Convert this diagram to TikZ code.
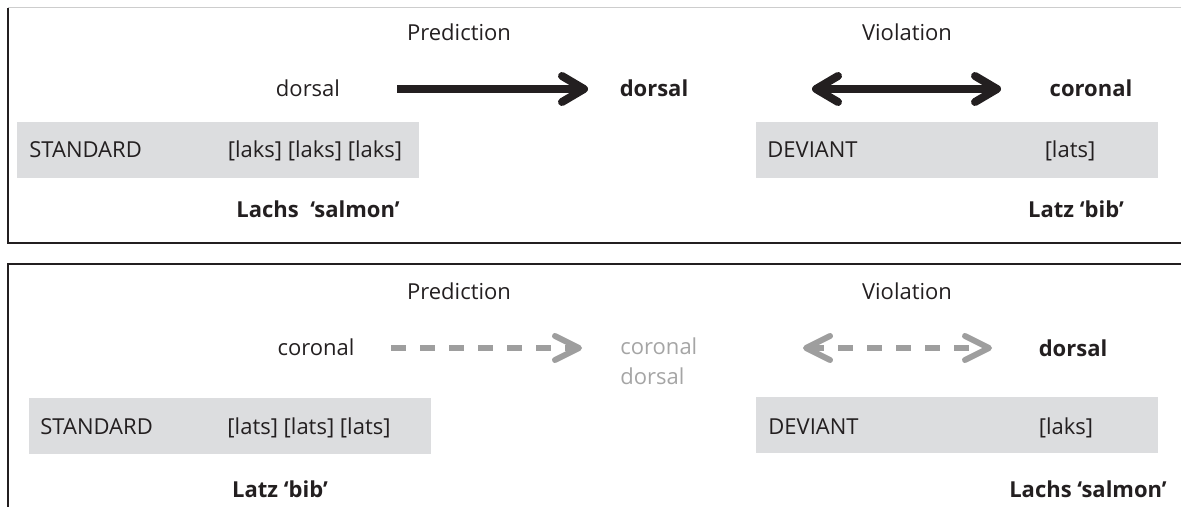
\documentclass[tikz,border=0pt]{standalone}
\usepackage{fontspec}
\setmainfont{Open Sans}
\usetikzlibrary{arrows.meta,positioning}
\definecolor{ink}{RGB}{35,31,32}
\definecolor{boxgrey}{RGB}{220,221,223}
\definecolor{fadegrey}{RGB}{158,158,158}
\definecolor{textgrey}{RGB}{165,165,165}
\definecolor{rulegrey}{RGB}{205,205,205}

\begin{document}
\begin{tikzpicture}[x=0.5pt,y=-0.5pt,
  lbl/.style={inner sep=0pt,text height=7.7pt,text depth=0pt,text=ink,font=\fontsize{11}{13}\selectfont},
  blbl/.style={lbl,font=\fontsize{11}{13}\selectfont\bfseries},
  glbl/.style={lbl,text=textgrey},
  trial/.style={fill=boxgrey,inner sep=0pt,minimum width=201pt,minimum height=28pt},
  frame/.style={draw=ink,line width=1.1pt},
  strong/.style={draw=ink,line width=4pt,-{Straight Barb[length=11pt,width=13pt,round]}},
  strong both/.style={strong,{Straight Barb[length=11pt,width=13pt,round]}-{Straight Barb[length=11pt,width=13pt,round]}},
  weak/.style={draw=fadegrey,line width=3pt,dash pattern=on 7.5pt off 7pt,-{Straight Barb[length=12pt,width=12pt,round]}},
  weak both/.style={weak,{Straight Barb[length=12pt,width=12pt,round]}-{Straight Barb[length=12pt,width=12pt,round]}}]
  \useasboundingbox (0,0) rectangle (1181,507);

  % frames
  \draw[rulegrey,line width=0.5pt] (8,8) -- (1181,8);
  \draw[frame] (8,8) -- (8,243) -- (1181,243);
  \draw[frame] (8,507) -- (8,264) -- (1181,264);

  % upper panel
  \node[lbl] (predA) at (459,33) {Prediction};
  \node[lbl] (violA) at (907,33) {Violation};
  \node[lbl] (srcA) at (308,89) {dorsal};
  \node[blbl] (tgtA) at (654,89) {dorsal};
  \node[blbl] (devA) at (1091,89) {coronal};
  \node[trial] (stdboxA) at (218,150) {};
  \node[lbl,anchor=west] (stdA) at (29,150) {STANDARD};
  \node[lbl] (seqA) at (315,150) {[laks] [laks] [laks]};
  \node[trial] (devboxA) at (957,150) {};
  \node[lbl,anchor=west] (devlA) at (767,150) {DEVIANT};
  \node[lbl] (itemA) at (1070,150) {[lats]};
  \node[blbl] (wordA) at (318,210) {Lachs\ \ ‘salmon’};
  \node[blbl] (wordB) at (1076,210) {Latz ‘bib’};
  \coordinate (pA1) at (397,89);
  \coordinate (pA2) at (588,89);
  \coordinate (vA1) at (812,89);
  \coordinate (vA2) at (1001,89);
  \draw[strong] (pA1) -- (pA2);
  \draw[strong both] (vA1) -- (vA2);

  % lower panel
  \node[lbl] (predB) at (459,292) {Prediction};
  \node[lbl] (violB) at (907,292) {Violation};
  \node[lbl] (srcB) at (316,348) {coronal};
  \node[glbl,anchor=west] (gcor) at (620,347) {coronal};
  \node[glbl] (gdor) [below=15pt of gcor.west,anchor=west] {dorsal};
  \node[blbl] (devB) at (1073,349) {dorsal};
  \node[trial] (stdboxB) at (230,426) {};
  \node[lbl,anchor=west] (stdB) at (40,427) {STANDARD};
  \node[lbl] (seqB) at (309,427) {[lats] [lats] [lats]};
  \node[trial] (devboxB) at (957,425) {};
  \node[lbl,anchor=west] (devlB) at (768,427) {DEVIANT};
  \node[lbl] (itemB) at (1066,427) {[laks]};
  \node[blbl] (wordC) at (280,490) {Latz ‘bib’};
  \node[blbl] (wordD) at (1088,490) {Lachs ‘salmon’};
  \coordinate (pB1) at (391,348);
  \coordinate (pB2) at (582,348);
  \coordinate (vB1) at (803,348);
  \coordinate (vB2) at (992,348);
  \draw[weak] (pB1) -- (pB2);
  \draw[weak both] (vB1) -- (vB2);
\end{tikzpicture}
\end{document}
